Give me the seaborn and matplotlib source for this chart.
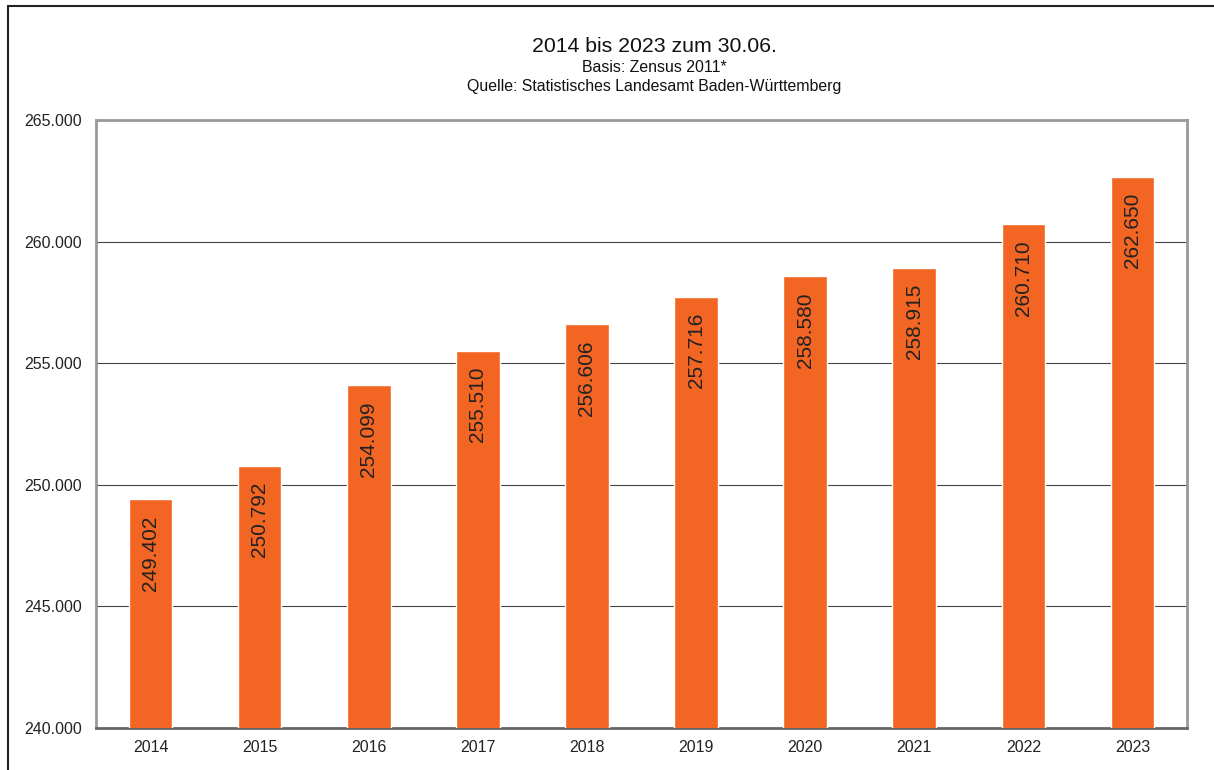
import matplotlib
matplotlib.use("Agg")
import matplotlib.pyplot as plt
import seaborn as sns
import pandas as pd
from matplotlib.lines import Line2D
from matplotlib.ticker import FuncFormatter

years = ["2014", "2015", "2016", "2017", "2018", "2019", "2020", "2021", "2022", "2023"]
values = [249402, 250792, 254099, 255510, 256606, 257716, 258580, 258915, 260710, 262650]
title = "2014 bis 2023 zum 30.06."
subtitle1 = "Basis: Zensus 2011*"
subtitle2 = "Quelle: Statistisches Landesamt Baden-Württemberg"

sns.set_theme(style="white")
plt.rcParams['font.family'] = ['Liberation Sans', 'DejaVu Sans']

W, H = 1214, 770
fig = plt.figure(figsize=(W / 100, H / 100), dpi=100)
ax = fig.add_axes([96 / W, 1 - 728 / H, (1187 - 96) / W, (728 - 120) / H])

df = pd.DataFrame({"year": years, "value": values})
sns.barplot(data=df, x="year", y="value", color="#F26522", saturation=1, width=0.4, ax=ax, zorder=3)

ax.set_ylim(240000, 265000)
ax.set_yticks(range(240000, 265001, 5000))
ax.yaxis.set_major_formatter(FuncFormatter(lambda v, p: f"{int(v):,}".replace(",", ".")))
ax.grid(axis="y", color="#444444", linewidth=0.8, zorder=0)
ax.grid(axis="x", visible=False)
ax.set_xlabel("")
ax.set_ylabel("")
ax.tick_params(axis="both", length=0, labelsize=11.5, colors="#222222")
ax.tick_params(axis="x", pad=9)
ax.tick_params(axis="y", pad=10)
for name, sp in ax.spines.items():
    sp.set_color("#999999")
    sp.set_linewidth(2)
ax.spines["bottom"].set_color("#666666")

for i, v in enumerate(values):
    label = f"{v:,}".replace(",", ".")
    ax.annotate(label, xy=(i, v), xytext=(0, -11.5), textcoords="offset points",
                rotation=90, ha="center", va="top", fontsize=15, color="#222222", zorder=4)

fig.text(654 / W, 1 - 47 / H, title, ha="center", va="center", fontsize=15.3, color="#111111")
fig.text(654 / W, 1 - 67 / H, subtitle1, ha="center", va="center", fontsize=11.4, color="#111111")
fig.text(654 / W, 1 - 87 / H, subtitle2, ha="center", va="center", fontsize=11.4, color="#111111")

fig.add_artist(Line2D([8 / W, 1], [1 - 6 / H, 1 - 6 / H], transform=fig.transFigure, color="#222222", linewidth=1.5))
fig.add_artist(Line2D([8 / W, 8 / W], [0, 1 - 6 / H], transform=fig.transFigure, color="#222222", linewidth=1.5))

fig.savefig("out.png", dpi=100)
